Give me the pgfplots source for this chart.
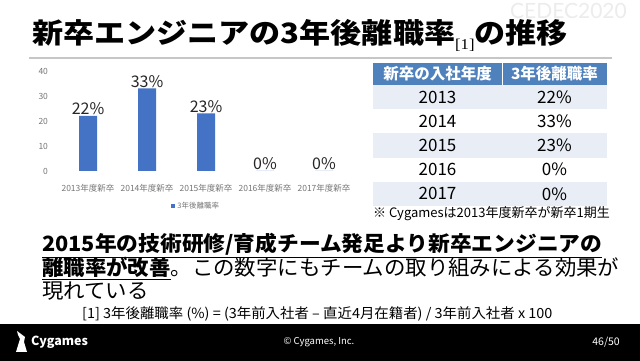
\documentclass[border=0pt]{standalone}
\usepackage{pgfplots}
\pgfplotsset{compat=1.18}
\usepackage{fontspec}
\setmainfont{Noto Sans CJK JP}
\newfontfamily\serifF{Liberation Serif}
\newfontfamily\latoF{Lato}
\definecolor{barblue}{RGB}{68,114,196}
\definecolor{hdrblue}{RGB}{79,129,189}
\definecolor{rowlight}{RGB}{233,238,246}
\definecolor{ticktxt}{RGB}{118,118,118}
\definecolor{txtdark}{RGB}{38,38,38}
\begin{document}
\begin{tikzpicture}
\begin{scope}[x=1pt,y=1pt]
\fill[white] (0,0) rectangle (640,361);
% watermark
\node[anchor=north east, inner sep=0, text=gray!15] at (627,358) {\fontsize{21}{21}\selectfont\latoF CEDEC2020};
% title
\node[anchor=base west, inner sep=0] at (32,317) {\scalebox{1.11}[1]{\fontsize{28}{30}\selectfont\bfseries 新卒エンジニアの3年後離職率\raisebox{-6pt}{\fontsize{15}{15}\selectfont\serifF\mdseries[1]}の推移}};
\draw[gray!45, line width=2pt] (29,303) -- (612,303);
% table
\fill[hdrblue] (373,298) rectangle (607,276);
\draw[white, line width=1pt] (502,298) -- (502,276);
\foreach \i/\yr/\v in {0/2013/22,1/2014/33,2/2015/23,3/2016/0,4/2017/0}{
  \pgfmathsetmacro{\top}{276-24.2*\i}
  \pgfmathsetmacro{\bot}{276-24.2*(\i+1)}
  \pgfmathsetmacro{\mid}{276-24.2*(\i+0.5)}
  \ifodd\i\else\fill[rowlight] (373,\top) rectangle (607,\bot);\fi
  \node[inner sep=0] at (437.5,\mid) {\fontsize{17}{17}\selectfont \yr};
  \node[inner sep=0] at (554.5,\mid) {\fontsize{17}{17}\selectfont \v\%};
}
\node[inner sep=0, text=white] at (437.5,287) {\fontsize{15.5}{16}\selectfont\bfseries 新卒の入社年度};
\node[inner sep=0, text=white] at (554.5,287) {\fontsize{15.5}{16}\selectfont\bfseries 3年後離職率};
\node[anchor=base west, inner sep=0] at (373,143) {\fontsize{13}{13}\selectfont ※ Cygamesは2013年度新卒が新卒1期生};
% body text
\node[anchor=base west, inner sep=0] at (42,109) {\scalebox{1.035}[1]{\fontsize{21}{21}\selectfont\bfseries\underline{2015年の技術研修/育成チーム発足より新卒エンジニアの}}};
\node[anchor=base west, inner sep=0] at (42,85) {\scalebox{1.02}[1]{\fontsize{21}{21}\selectfont{\bfseries\underline{離職率が改善}}。この数字にもチームの取り組みによる効果が}};
\node[anchor=base west, inner sep=0] at (42,62) {\scalebox{1.02}[1]{\fontsize{21}{21}\selectfont 現れている}};
\node[anchor=base west, inner sep=0] at (82,42) {\scalebox{1.03}[1]{\fontsize{14}{14}\selectfont [1] 3年後離職率 (\%) = (3年前入社者 – 直近4月在籍者) / 3年前入社者 x 100}};
% footer
\fill[black] (0,0) rectangle (640,37);
\fill[white] (16,9) -- (20,22) -- (18,26) -- (17,30) -- (21,27) -- (25,24) -- (24,19) -- (27,9) -- cycle;
\node[anchor=west, inner sep=0, text=white] at (31,19) {\fontsize{12.5}{12.5}\selectfont\bfseries Cygames};
\node[inner sep=0, text=white] at (319,19) {\fontsize{9.5}{9.5}\selectfont © Cygames, Inc.};
\node[anchor=east, inner sep=0, text=white] at (620,19) {\fontsize{10.5}{10.5}\selectfont 46/50};
\end{scope}
\begin{axis}[
  at={(58.5pt,190pt)}, anchor=south west,
  scale only axis, width=295pt, height=100pt,
  xmin=-0.5, xmax=4.5, ymin=0, ymax=40,
  axis line style={draw=none}, tick style={draw=none},
  ytick={0,10,20,30,40},
  xtick={0,1,2,3,4},
  xticklabels={2013年度新卒,2014年度新卒,2015年度新卒,2016年度新卒,2017年度新卒},
  ticklabel style={font=\fontsize{8.5}{9}\selectfont, text=ticktxt},
  /pgf/number format/assume math mode=true,
  yticklabel style={xshift=-7pt},
  xticklabel style={yshift=-6pt},
  ybar, bar width=18pt,
  nodes near coords={\pgfmathprintnumber{\pgfplotspointmeta}\%},
  every node near coord/.append style={font=\fontsize{16}{16}\selectfont, text=txtdark, inner sep=0pt, yshift=1pt},
  legend style={at={(0.466,-0.35)}, anchor=center, draw=none, fill=none, font=\fontsize{7.5}{8}\selectfont, text=ticktxt},
  every axis plot post/.append style={legend image code/.code={\path[##1] (0pt,-2.2pt) rectangle (4.5pt,2.3pt);}},
  clip=false,
]
\addplot[fill=barblue, draw=none] coordinates {(0,22) (1,33) (2,23) (3,0) (4,0)};
\addlegendentry{3年後離職率}
\end{axis}
\end{tikzpicture}
\end{document}
